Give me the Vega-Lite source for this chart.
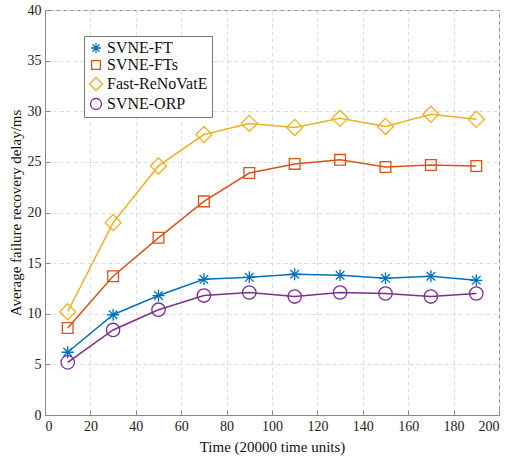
{
  "$schema": "https://vega.github.io/schema/vega-lite/v6.json",
  "width": 454,
  "height": 405,
  "autosize": {"type": "none"},
  "padding": {"left": 45, "top": 10, "right": 11, "bottom": 45},
  "background": "white",
  "config": {
    "font": "Liberation Serif",
    "view": {"stroke": "#888888", "strokeWidth": 1},
    "axis": {
      "labelFont": "Liberation Serif",
      "titleFont": "Liberation Serif",
      "labelFontSize": 14,
      "titleFontSize": 15,
      "titleFontWeight": "normal",
      "labelColor": "#222222",
      "titleColor": "#111111",
      "domainColor": "#888888",
      "tickColor": "#888888",
      "tickSize": -5,
      "labelPadding": 9,
      "gridColor": "#dddddd",
      "gridDash": [4, 3],
      "gridWidth": 1
    }
  },
  "data": {
    "values": [
      {"t": 10, "s": "SVNE-FT", "v": 6.2},
      {"t": 30, "s": "SVNE-FT", "v": 9.9},
      {"t": 50, "s": "SVNE-FT", "v": 11.8},
      {"t": 70, "s": "SVNE-FT", "v": 13.4},
      {"t": 90, "s": "SVNE-FT", "v": 13.6},
      {"t": 110, "s": "SVNE-FT", "v": 13.9},
      {"t": 130, "s": "SVNE-FT", "v": 13.8},
      {"t": 150, "s": "SVNE-FT", "v": 13.5},
      {"t": 170, "s": "SVNE-FT", "v": 13.7},
      {"t": 190, "s": "SVNE-FT", "v": 13.3},
      {"t": 10, "s": "SVNE-FTs", "v": 8.6},
      {"t": 30, "s": "SVNE-FTs", "v": 13.7},
      {"t": 50, "s": "SVNE-FTs", "v": 17.5},
      {"t": 70, "s": "SVNE-FTs", "v": 21.1},
      {"t": 90, "s": "SVNE-FTs", "v": 23.9},
      {"t": 110, "s": "SVNE-FTs", "v": 24.8},
      {"t": 130, "s": "SVNE-FTs", "v": 25.2},
      {"t": 150, "s": "SVNE-FTs", "v": 24.5},
      {"t": 170, "s": "SVNE-FTs", "v": 24.7},
      {"t": 190, "s": "SVNE-FTs", "v": 24.6},
      {"t": 10, "s": "Fast-ReNoVatE", "v": 10.2},
      {"t": 30, "s": "Fast-ReNoVatE", "v": 19.0},
      {"t": 50, "s": "Fast-ReNoVatE", "v": 24.6},
      {"t": 70, "s": "Fast-ReNoVatE", "v": 27.7},
      {"t": 90, "s": "Fast-ReNoVatE", "v": 28.8},
      {"t": 110, "s": "Fast-ReNoVatE", "v": 28.4},
      {"t": 130, "s": "Fast-ReNoVatE", "v": 29.3},
      {"t": 150, "s": "Fast-ReNoVatE", "v": 28.5},
      {"t": 170, "s": "Fast-ReNoVatE", "v": 29.7},
      {"t": 190, "s": "Fast-ReNoVatE", "v": 29.2},
      {"t": 10, "s": "SVNE-ORP", "v": 5.2},
      {"t": 30, "s": "SVNE-ORP", "v": 8.4},
      {"t": 50, "s": "SVNE-ORP", "v": 10.4},
      {"t": 70, "s": "SVNE-ORP", "v": 11.8},
      {"t": 90, "s": "SVNE-ORP", "v": 12.1},
      {"t": 110, "s": "SVNE-ORP", "v": 11.7},
      {"t": 130, "s": "SVNE-ORP", "v": 12.1},
      {"t": 150, "s": "SVNE-ORP", "v": 12.0},
      {"t": 170, "s": "SVNE-ORP", "v": 11.7},
      {"t": 190, "s": "SVNE-ORP", "v": 12.0}
    ]
  },
  "encoding": {
    "x": {
      "field": "t", "type": "quantitative",
      "scale": {"domain": [0, 200], "nice": false},
      "axis": {"values": [0,20,40,60,80,100,120,140,160,180,200], "title": "Time (20000 time units)", "titlePadding": 6}
    },
    "y": {
      "field": "v", "type": "quantitative",
      "scale": {"domain": [0, 40], "nice": false},
      "axis": {"values": [0,5,10,15,20,25,30,35,40], "title": "Average failure recovery delay/ms", "titlePadding": 4}
    },
    "color": {
      "field": "s", "type": "nominal",
      "scale": {
        "domain": ["SVNE-FT", "SVNE-FTs", "Fast-ReNoVatE", "SVNE-ORP"],
        "range": ["#0072BD", "#D95319", "#EDB120", "#7E2F8E"]
      },
      "legend": {
        "title": null,
        "orient": "none",
        "legendX": 39,
        "legendY": 26,
        "fillColor": "white",
        "strokeColor": "#777777",
        "padding": 4,
        "labelFont": "Liberation Serif",
        "labelFontSize": 16,
        "labelColor": "#111111",
        "symbolStrokeWidth": 1.3,
        "rowPadding": 1,
        "symbolSize": 120,
        "labelOffset": 3
      }
    }
  },
  "layer": [
    {
      "mark": {"type": "line", "strokeWidth": 1.5},
      "encoding": {"detail": {"field": "s"}}
    },
    {
      "mark": {"type": "point", "filled": false, "strokeWidth": 1.3, "opacity": 1, "size": 180},
      "encoding": {
        "shape": {
          "field": "s", "type": "nominal",
          "scale": {
            "domain": ["SVNE-FT", "SVNE-FTs", "Fast-ReNoVatE", "SVNE-ORP"],
            "range": [
              "M-0.9,0L0.9,0M0,-0.9L0,0.9M-0.64,-0.64L0.64,0.64M-0.64,0.64L0.64,-0.64",
              "M-0.8,-0.8L0.8,-0.8L0.8,0.8L-0.8,0.8Z",
              "M0,-1.2L1.2,0L0,1.2L-1.2,0Z",
              "circle"
            ]
          },
          "legend": {
            "title": null,
            "orient": "none",
            "legendX": 39,
            "legendY": 26,
            "fillColor": "white",
            "strokeColor": "#777777",
            "padding": 4,
            "labelFont": "Liberation Serif",
            "labelFontSize": 16,
            "labelColor": "#111111",
            "symbolStrokeWidth": 1.3,
            "rowPadding": 1,
            "symbolSize": 120,
            "labelOffset": 3
          }
        }
      }
    }
  ]
}
